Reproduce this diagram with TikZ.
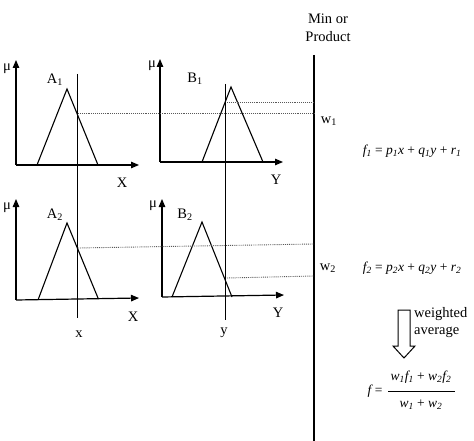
\documentclass[tikz,border=0pt]{standalone}
\usepackage{fontspec}
\setmainfont{Liberation Serif}
\usetikzlibrary{arrows.meta}
\begin{document}
\begin{tikzpicture}[x=1pt,y=-1pt,
  axis/.style={line width=1.2pt,-{Triangle[length=8pt,width=6.5pt]}},
  mf/.style={line width=1.1pt},
  cut/.style={line width=1pt},
  lvl/.style={densely dotted,line width=0.9pt,gray!70!black},
  lbl/.style={font=\fontsize{14.5}{16}\selectfont,inner sep=0pt},
  eq/.style={font=\fontsize{13.5}{15}\selectfont\itshape,inner sep=0pt}]
\useasboundingbox (0,0) rectangle (474,441);
% ---- top-left panel (A1)
\coordinate (o1) at (16,165);
\draw[axis] (o1) -- (16,60);
\draw[axis] (o1) -- (139,165);
\draw[mf] (37,165) -- (67,89) -- (98,165);
\node[lbl] (mu1) at (7,69) {μ};
\node[lbl] (A1) at (55,80) {A\textsubscript{1}};
\node[lbl] (X1) at (122,183) {X};
% ---- bottom-left panel (A2)
\coordinate (o3) at (16,300);
\draw[axis] (o3) -- (16,199);
\draw[axis] (o3) -- (139,298);
\draw[mf] (38,300) -- (67,223) -- (98,298);
\node[lbl] (mu3) at (7,208) {μ};
\node[lbl] (A2) at (55,215) {A\textsubscript{2}};
\node[lbl] (X3) at (133,317) {X};
\node[lbl] (xin) at (79,334) {x};
% input x cut line
\coordinate (xt) at (77,74);
\coordinate (xb) at (77,318);
\draw[cut] (xt) -- (xb);
% ---- top-right panel (B1)
\coordinate (o2) at (160,162);
\draw[axis] (o2) -- (160,59);
\draw[axis] (o2) -- (283,162);
\draw[mf] (202,162) -- (231,87) -- (263,162);
\node[lbl] (mu2) at (152,66) {μ};
\node[lbl] (B1) at (195,79) {B\textsubscript{1}};
\node[lbl] (Y2) at (276,180) {Y};
% ---- bottom-right panel (B2)
\coordinate (o4) at (162,297);
\draw[axis] (o4) -- (162,199);
\draw[axis] (o4) -- (284,295);
\draw[mf] (172,297) -- (202,222) -- (232,297);
\node[lbl] (mu4) at (153,206) {μ};
\node[lbl] (B2) at (185,215) {B\textsubscript{2}};
\node[lbl] (Y4) at (278,313) {Y};
\node[lbl] (yin) at (224,333) {y};
% input y cut line
\coordinate (yt) at (225,84);
\coordinate (yb) at (225,320);
\draw[cut] (yt) -- (yb);
% ---- Min/Product line
\coordinate (mt) at (314,55);
\coordinate (mb) at (314,441);
\draw[line width=1.3pt] (mt) -- (mb);
\node[lbl,align=center] (minp) at (328,28) {Min or\\[2pt]Product};
% membership levels
\coordinate (a1) at (78,113);
\coordinate (b1) at (227,102);
\coordinate (a2) at (78,248);
\coordinate (b2) at (227,278);
\draw[lvl] (a1) -- (a1 -| mt);
\draw[lvl] (b1) -- (b1 -| mt);
\draw[lvl] (a2) -- (314,244);
\draw[lvl] (b2) -- (314,276);
\node[lbl] (w1) at (329,121) {w\textsubscript{1}};
\node[lbl] (w2) at (328,268) {w\textsubscript{2}};
% ---- equations
\node[eq] (f1) at (412,151) {f\textsubscript{1} \upshape= \itshape p\textsubscript{1}x \upshape+ \itshape q\textsubscript{1}y \upshape+ \itshape r\textsubscript{1}};
\node[eq] (f2) at (412,268) {f\textsubscript{2} \upshape= \itshape p\textsubscript{2}x \upshape+ \itshape q\textsubscript{2}y \upshape+ \itshape r\textsubscript{2}};
% hollow arrow
\draw[line width=1pt] (398,310) -- (410,310) -- (410,346) -- (415,346) -- (404,358) -- (393,346) -- (398,346) -- cycle;
\node[lbl,anchor=west,align=left] (wa) at (414,323) {weighted\\[1pt]average};
% final formula
\node[eq] (fl) at (375,391) {f \upshape=};
\node[eq] (num) at (421,377) {w\textsubscript{1}f\textsubscript{1} \upshape+ \itshape w\textsubscript{2}f\textsubscript{2}};
\node[eq] (den) at (421,405) {w\textsubscript{1} \upshape+ \itshape w\textsubscript{2}};
\draw[line width=0.8pt] (388,391) -- (455,391);
\end{tikzpicture}
\end{document}
